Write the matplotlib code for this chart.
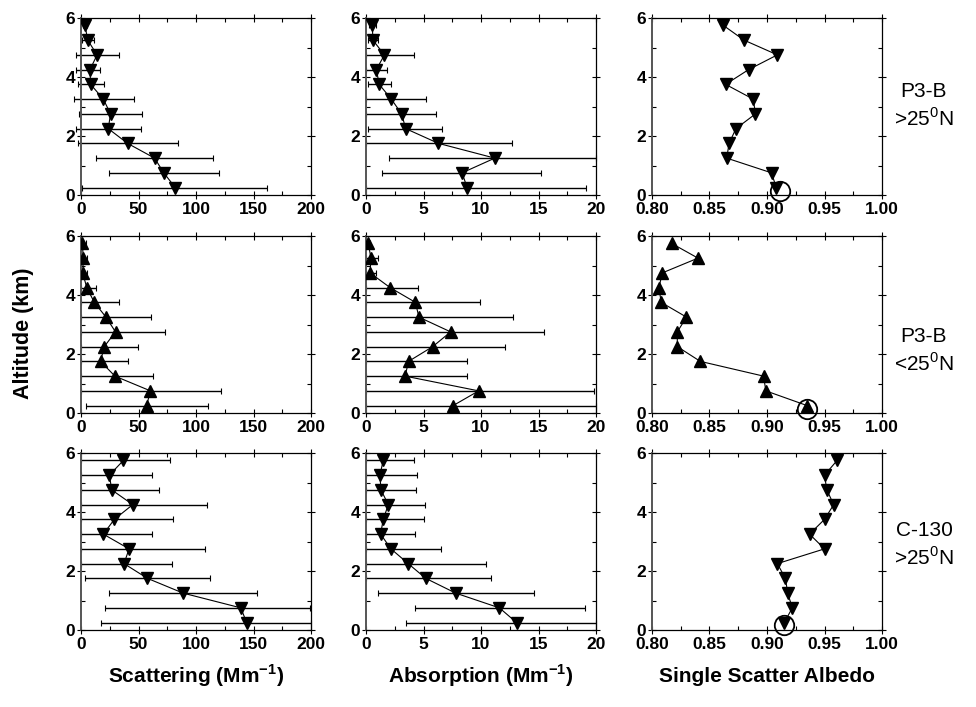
import numpy as np
import matplotlib
matplotlib.use("Agg")
import matplotlib.pyplot as plt
from matplotlib.ticker import MultipleLocator, FormatStrFormatter

plt.rcParams['font.family'] = ['Liberation Sans', 'DejaVu Sans']
plt.rcParams['mathtext.fontset'] = 'custom'
plt.rcParams['mathtext.rm'] = 'Liberation Sans'
plt.rcParams['mathtext.bf'] = 'Liberation Sans:bold'

# -------------------------------------------------
# DATA (altitude bins 0.25 .. 5.75 km)
# -------------------------------------------------
altitude = [0.25, 0.75, 1.25, 1.75, 2.25, 2.75, 3.25, 3.75, 4.25, 4.75, 5.25, 5.75]

# P3-B >25N
scat_1 = [82, 72, 64, 40.5, 23.7, 25.7, 19.4, 8.4, 7.8, 14, 5.8, 3.5]
scat_1_lo = [1, 24, 13, -3, -4.5, -2, -6.5, -3, -4.5, -4.5, 0.5, 1.5]
scat_1_hi = [162, 120, 115, 84, 52, 53, 46, 20, 16.5, 33, 11.5, 5.5]
abs_1 = [8.8, 8.35, 11.2, 6.3, 3.45, 3.1, 2.2, 1.15, 0.9, 1.6, 0.6, 0.55]
abs_1_lo = [0, 1.4, 2.0, 0, 0.2, 0, 0, 0.15, 0, 0, 0.2, 0.3]
abs_1_hi = [19.1, 15.2, 21, 12.7, 6.6, 6.1, 5.25, 2.2, 1.8, 4.2, 1.05, 0.85]
ssa_1 = [0.908, 0.904, 0.865, 0.867, 0.873, 0.890, 0.888, 0.864, 0.884, 0.909, 0.880, 0.862]

# P3-B <25N
scat_2 = [57, 60.4, 29.5, 17, 20.2, 30, 21.7, 11.6, 5, 1.5, 2, 1.2]
scat_2_lo = [4.3, 0, 0, 0, 0, 0, 0, 0, 0, 0, 0, 0]
scat_2_hi = [110, 122, 62.7, 41, 49.7, 73.4, 61.3, 33, 12.7, 5, 5, 4]
abs_2 = [7.57, 9.8, 3.4, 3.7, 5.8, 7.36, 4.6, 4.3, 2.1, 0.35, 0.43, 0.2]
abs_2_lo = [0, 0, 0, 0, 0, 0, 0, 0, 0, 0, 0, 0]
abs_2_hi = [21, 19.8, 8.75, 8.8, 12.1, 15.5, 12.75, 9.9, 4.55, 0.87, 1.0, 0.35]
ssa_2 = [0.935, 0.899, 0.897, 0.842, 0.822, 0.822, 0.830, 0.808, 0.806, 0.809, 0.840, 0.817]

# C-130 >25N
scat_3 = [144, 139, 88.8, 57.8, 37.4, 41.8, 19.4, 29, 45, 26.7, 24.7, 36.9]
scat_3_lo = [17, 21, 24.7, 3.8, 0, 0, 0, 0, 0, 0, 0, 0]
scat_3_hi = [210, 199, 153, 112.5, 79.5, 108, 61.5, 80.4, 109.4, 68, 62, 77.5]
abs_3 = [13.1, 11.6, 7.8, 5.2, 3.67, 2.17, 1.27, 1.5, 1.94, 1.3, 1.21, 1.5]
abs_3_lo = [3.44, 4.3, 1.07, 0, 0, 0, 0, 0, 0, 0, 0, 0]
abs_3_hi = [21, 19.05, 14.65, 10.9, 10.46, 6.5, 4.25, 5.03, 5.1, 4.33, 4.4, 4.16]
ssa_3 = [0.915, 0.922, 0.918, 0.916, 0.909, 0.950, 0.937, 0.950, 0.958, 0.952, 0.950, 0.961]

# surface (circled) points
surf_ssa = [0.911, 0.935, 0.915]
surf_alt = [0.14, 0.14, 0.17]

row_labels = ["P3-B\n>25$^\\mathregular{0}$N", "P3-B\n<25$^\\mathregular{0}$N", "C-130\n>25$^\\mathregular{0}$N"]
row_markers = ['v', '^', 'v']
col_xlabels = ["Scattering (Mm$^\\mathbf{-1}$)", "Absorption (Mm$^\\mathbf{-1}$)", "Single Scatter Albedo"]

rows = [
    ((scat_1, scat_1_lo, scat_1_hi), (abs_1, abs_1_lo, abs_1_hi), ssa_1),
    ((scat_2, scat_2_lo, scat_2_hi), (abs_2, abs_2_lo, abs_2_hi), ssa_2),
    ((scat_3, scat_3_lo, scat_3_hi), (abs_3, abs_3_lo, abs_3_hi), ssa_3),
]

# axis settings per column: (xmin, xmax, major, minor, format)
col_axes = [
    (0, 200, 50, 25, '%d'),
    (0, 20, 5, 2.5, '%d'),
    (0.80, 1.00, 0.05, 0.025, '%.2f'),
]

# -------------------------------------------------
# LAYOUT
# -------------------------------------------------
W, H = 976, 707
fig = plt.figure(figsize=(W / 100, H / 100), dpi=100)
col_left = [81, 366, 652]
row_top = [18, 236, 453]
row_label_y = [106, 351, 545]
aw, ah = 230, 177


def style_axis(ax, xmin, xmax, major, minor, fmt):
    ax.set_xlim(xmin, xmax)
    ax.set_ylim(0, 6)
    ax.xaxis.set_major_locator(MultipleLocator(major))
    ax.xaxis.set_minor_locator(MultipleLocator(minor))
    ax.xaxis.set_major_formatter(FormatStrFormatter(fmt))
    ax.yaxis.set_major_locator(MultipleLocator(2))
    ax.yaxis.set_minor_locator(MultipleLocator(1))
    ax.tick_params(which='major', direction='inout', length=6, width=0.8,
                   top=True, right=True, labelsize=12.5)
    ax.tick_params(axis='x', which='major', pad=2)
    ax.tick_params(axis='y', which='major', pad=1)
    ax.tick_params(which='minor', direction='in', length=3, width=0.8,
                   top=True, right=True)
    for lab in ax.get_xticklabels() + ax.get_yticklabels():
        lab.set_fontweight('bold')
    for sp in ax.spines.values():
        sp.set_linewidth(0.9)
    ax.spines['left'].set_color('#555555')
    ax.spines['left'].set_linewidth(1.4)


for r, (sc, ab, ssa) in enumerate(rows):
    mk = row_markers[r]
    for c in range(3):
        rect = [col_left[c] / W, 1 - (row_top[r] + ah) / H, aw / W, ah / H]
        ax = fig.add_axes(rect)
        xmin, xmax, major, minor, fmt = col_axes[c]
        style_axis(ax, xmin, xmax, major, minor, fmt)
        if c < 2:
            vals, lo, hi = (sc, ab)[c]
            vals = np.array(vals)
            lo = np.array(lo)
            hi = np.minimum(np.array(hi), xmax)
            ax.errorbar(vals, altitude, xerr=[vals - lo, hi - vals], fmt='none',
                        ecolor='black', elinewidth=1.0, capsize=2, capthick=0.8,
                        clip_on=False, zorder=2)
            ax.plot(vals, altitude, '-', color='black', lw=0.8, zorder=3)
            ax.plot(vals, altitude, mk, color='black', ms=8, zorder=4)
        else:
            ax.plot(ssa, altitude, '-', color='black', lw=0.8, zorder=3)
            ax.plot(ssa, altitude, mk, color='black', ms=8, zorder=4)
            ax.plot(surf_ssa[r], surf_alt[r], 'o', ms=14, mfc='none',
                    mec='black', mew=1.3, clip_on=False, zorder=5)
        if r == 2:
            ax.text(0.5, -0.26, col_xlabels[c], transform=ax.transAxes,
                    ha='center', va='center', fontsize=15, fontweight='bold')
    # row label on the right
    fig.text(924 / W, 1 - row_label_y[r] / H, row_labels[r], ha='center',
             va='center', fontsize=15, linespacing=1.3)

fig.text(23 / W, 1 - 333 / H, "Altitude (km)", rotation=90, ha='center',
         va='center', fontsize=15.5, fontweight='bold')

fig.savefig("out.png", dpi=100)
